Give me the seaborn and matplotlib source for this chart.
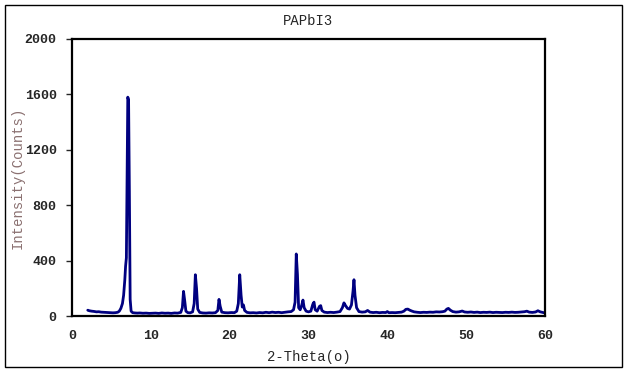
# XRD pattern of PAPbI3, redrawn with seaborn
import matplotlib
matplotlib.use("Agg")
import matplotlib.pyplot as plt
import matplotlib.patches as patches
import seaborn as sns

# 2-theta positions (degrees) and intensities
two_theta = [
    2.0, 2.2, 2.5, 2.8, 3.1, 3.4, 3.7, 4.0, 4.3, 4.6, 4.9, 5.2, 5.5, 5.8, 6.0,
    6.2, 6.4, 6.55, 6.7, 6.8, 6.9, 7.0, 7.08, 7.18, 7.28, 7.38, 7.5, 7.7, 8.0,
    8.3, 8.6, 9.0, 9.4, 9.8, 10.2, 10.6, 11.0, 11.4, 11.8, 12.2, 12.6, 13.0,
    13.4, 13.8, 14.0, 14.15, 14.3, 14.45, 14.7, 15.0, 15.3, 15.5, 15.65, 15.8,
    15.95, 16.2, 16.6, 17.0, 17.4, 17.8, 18.2, 18.5, 18.65, 18.8, 19.0, 19.4,
    19.8, 20.2, 20.6, 20.9, 21.1, 21.28, 21.45, 21.6, 21.75, 21.9, 22.2, 22.6,
    23.0, 23.4, 23.8, 24.2, 24.6, 25.0, 25.4, 25.8, 26.2, 26.6, 27.0, 27.4,
    27.8, 28.1, 28.3, 28.45, 28.6, 28.75, 28.95, 29.15, 29.3, 29.45, 29.7,
    30.0, 30.3, 30.55, 30.7, 30.85, 31.1, 31.4, 31.55, 31.7, 32.0, 32.4, 32.8,
    33.2, 33.6, 34.0, 34.3, 34.5, 34.7, 34.95, 35.2, 35.45, 35.65, 35.77, 35.9,
    36.1, 36.4, 36.8, 37.2, 37.5, 37.8, 38.2, 38.6, 39.0, 39.4, 39.8, 40.0,
    40.2, 40.6, 41.0, 41.4, 41.8, 42.1, 42.35, 42.6, 42.85, 43.1, 43.4, 43.8,
    44.2, 44.6, 45.0, 45.4, 45.8, 46.2, 46.6, 47.0, 47.3, 47.55, 47.75, 48.0,
    48.3, 48.7, 49.1, 49.5, 49.8, 50.2, 50.6, 51.0, 51.4, 51.8, 52.2, 52.6,
    53.0, 53.4, 53.8, 54.2, 54.6, 55.0, 55.4, 55.8, 56.2, 56.6, 57.0, 57.4,
    57.7, 58.0, 58.4, 58.8, 59.1, 59.4, 59.7, 60.0,
]
counts = [
    42, 38, 35, 33, 30, 31, 28, 27, 26, 25, 24, 23, 24, 27, 35,
    55, 90, 150, 260, 360, 420, 1100, 1580, 1560, 900, 120, 35, 24, 22,
    21, 22, 20, 21, 19, 20, 21, 19, 22, 20, 21, 19, 22,
    21, 26, 60, 178, 110, 35, 24, 23, 30, 90, 298, 200,
    50, 26, 22, 21, 23, 22, 24, 40, 120, 70, 28, 24,
    23, 25, 24, 35, 90, 298, 150, 65, 80, 40, 26, 23,
    24, 22, 25, 23, 27, 24, 28, 25, 27, 24, 27, 30,
    32, 45, 100, 448, 300, 60, 45, 80, 115, 60, 35,
    30, 35, 85, 100, 45, 35, 70, 75, 40, 28, 25, 27,
    25, 28, 32, 60, 95, 75, 55, 50, 80, 180, 262, 150,
    60, 32, 28, 30, 40, 28, 25, 27, 24, 26, 25, 32,
    24, 25, 24, 26, 28, 35, 48, 50, 42, 36, 30, 27,
    25, 27, 26, 28, 27, 30, 29, 31, 35, 50, 55, 42,
    32, 28, 30, 36, 29, 27, 29, 26, 28, 25, 27, 26,
    28, 25, 27, 26, 25, 27, 26, 28, 26, 27, 29, 31,
    35, 28, 26, 29, 38, 30, 26, 22,
]

x_ticks = [0, 10, 20, 30, 40, 50, 60]
y_ticks = [0, 400, 800, 1200, 1600, 2000]

sns.set_style("white")
plt.rcParams['font.family'] = ['Liberation Mono', 'DejaVu Sans']

fig = plt.figure(figsize=(6.27, 3.72), dpi=100)
ax = fig.add_axes([0.1148, 0.1505, 0.7544, 0.7447])

sns.lineplot(x=two_theta, y=counts, color='#000080', linewidth=2, ax=ax)

ax.set_xlim(0, 60)
ax.set_ylim(0, 2000)
ax.set_xticks(x_ticks)
ax.set_yticks(y_ticks)
ax.tick_params(axis='x', direction='in', length=4, width=1, labelsize=9.5, pad=10)
ax.tick_params(axis='y', direction='out', length=4, width=1, labelsize=9.5, pad=7, left=True)
for lab in ax.get_xticklabels() + ax.get_yticklabels():
    lab.set_fontweight('bold')

for s in ax.spines.values():
    s.set_visible(True)
    s.set_color('black')
    s.set_linewidth(1.6)

ax.set_title('PAPbI3', fontsize=10, pad=10)
ax.set_xlabel('2-Theta(o)', fontsize=10, labelpad=6)
ax.set_ylabel('Intensity(Counts)', fontsize=10, color='#8a7070', va='center')
ax.yaxis.set_label_coords(-0.114, 0.5)

# frame round the whole chart
fig.patches.append(patches.Rectangle((0.008, 0.0134), 0.984, 0.973, transform=fig.transFigure,
                                     fill=False, edgecolor='black', linewidth=1))

fig.savefig('out.png', dpi=100)
